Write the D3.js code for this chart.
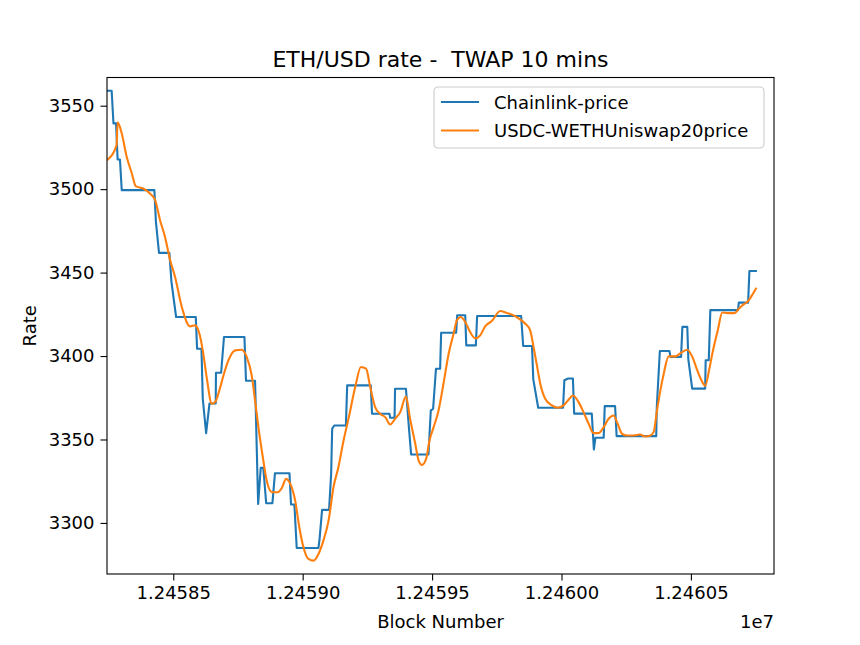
<!DOCTYPE html>
<html>
<head>
<meta charset="utf-8">
<script src="https://cdn.jsdelivr.net/npm/d3@7"></script>
<style>
  body { margin: 0; background: #fff; }
  text { font-family: "DejaVu Sans", sans-serif; fill: #000; }
</style>
</head>
<body>
<svg id="chart" width="860" height="645"></svg>
<script>
var chainlinkBlocks = [
  12458244, 12458262, 12458269, 12458279, 12458285, 12458294, 12458301, 12458427, 12458433, 12458445,
  12458485, 12458493, 12458511, 12458587, 12458592, 12458609, 12458614, 12458627, 12458640, 12458664,
  12458665, 12458685, 12458696, 12458775, 12458781, 12458816, 12458828, 12458838, 12458848, 12458859,
  12458883, 12458893, 12458949, 12458955, 12458968, 12458977, 12459061, 12459065, 12459075, 12459102,
  12459110, 12459114, 12459122, 12459167, 12459172, 12459263, 12459268, 12459335, 12459338, 12459355,
  12459357, 12459399, 12459408, 12459419, 12459486, 12459495, 12459504, 12459515, 12459531, 12459535,
  12459593, 12459597, 12459628, 12459632, 12459669, 12459674, 12459844, 12459852, 12459886, 12459891,
  12459910, 12460006, 12460011, 12460026, 12460044, 12460049, 12460117, 12460125, 12460131, 12460163,
  12460167, 12460207, 12460213, 12460366, 12460368, 12460380, 12460417, 12460421, 12460462, 12460467,
  12460486, 12460490, 12460505, 12460555, 12460557, 12460569, 12460575, 12460682, 12460685, 12460721,
  12460726, 12460751
]
var chainlinkPrice = [
  3559, 3559, 3539.4, 3539.4, 3517.8, 3517.8, 3499.4, 3499.4, 3480.4, 3461.8,
  3461.8, 3444.4, 3423.4, 3423.4, 3404.4, 3404.4, 3374.4, 3353.8, 3371.6, 3371.6,
  3390, 3390, 3411.4, 3411.4, 3385.2, 3385.2, 3311.4, 3333, 3333, 3311.8,
  3311.8, 3329.8, 3329.8, 3311, 3311, 3285, 3285, 3290, 3307.8, 3307.8,
  3329.4, 3356.4, 3358.4, 3358.4, 3382.4, 3382.4, 3365.4, 3365.4, 3363, 3363,
  3380.4, 3380.4, 3361.8, 3341, 3341, 3367.4, 3368.4, 3392.4, 3392.4, 3414,
  3414, 3424.4, 3424.4, 3406.4, 3406.4, 3424, 3424, 3406, 3406, 3386,
  3369, 3369, 3385.5, 3386.5, 3386.5, 3365.5, 3365.5, 3344, 3351, 3351,
  3370, 3370, 3352, 3352, 3369, 3403, 3403, 3399.5, 3399.5, 3417.5,
  3417.5, 3398, 3380.5, 3380.5, 3397.5, 3397.5, 3427.5, 3427.5, 3432, 3432,
  3451, 3451
]

var uniswapBlocks = [
  12458247, 12458281, 12458285, 12458301, 12458320, 12458340, 12458355, 12458384, 12458410, 12458430,
  12458449, 12458468, 12458488, 12458507, 12458533, 12458565, 12458584, 12458601, 12458614, 12458629,
  12458649, 12458662, 12458678, 12458694, 12458713, 12458739, 12458765, 12458784, 12458803, 12458816,
  12458829, 12458846, 12458861, 12458881, 12458904, 12458919, 12458936, 12458949, 12458971, 12458987,
  12459003, 12459022, 12459042, 12459061, 12459080, 12459100, 12459119, 12459138, 12459158, 12459177,
  12459203, 12459225, 12459245, 12459261, 12459280, 12459299, 12459319, 12459338, 12459357, 12459377,
  12459399, 12459415, 12459435, 12459448, 12459461, 12459477, 12459490, 12459506, 12459525, 12459544,
  12459564, 12459583, 12459596, 12459611, 12459628, 12459647, 12459667, 12459686, 12459705, 12459731,
  12459763, 12459789, 12459815, 12459841, 12459860, 12459879, 12459892, 12459905, 12459918, 12459937,
  12459963, 12459985, 12460008, 12460027, 12460044, 12460066, 12460085, 12460105, 12460124, 12460143,
  12460163, 12460182, 12460201, 12460217, 12460234, 12460253, 12460279, 12460302, 12460324, 12460343,
  12460356, 12460369, 12460382, 12460395, 12460414, 12460440, 12460457, 12460486, 12460506, 12460525,
  12460545, 12460555, 12460571, 12460584, 12460604, 12460621, 12460643, 12460669, 12460682, 12460702,
  12460721, 12460734, 12460751
]
var uniswapPrice = [
  3517.8, 3526.4, 3540, 3533.4, 3519.4, 3509.4, 3501.8, 3500.4, 3497.4, 3493.4,
  3481.4, 3471.4, 3457.4, 3447.4, 3429.4, 3417.8, 3418.4, 3413.4, 3403.4, 3387.4,
  3371.4, 3372.4, 3379.4, 3388.4, 3397.4, 3403.4, 3403.8, 3399.4, 3388.4, 3373.4,
  3357.4, 3339.4, 3325.4, 3318.4, 3318.4, 3320.8, 3326.4, 3324.4, 3313.4, 3297.4,
  3285.4, 3278.4, 3277.4, 3281.4, 3289.4, 3301.4, 3321.4, 3333.4, 3349.4, 3362.4,
  3381.4, 3393.4, 3392.4, 3381.4, 3369.4, 3365.4, 3363.4, 3359, 3362.4, 3366.4,
  3375.8, 3362.4, 3347.4, 3337.4, 3334.8, 3338.4, 3349.4, 3357.4, 3367.4, 3383.4,
  3401.4, 3413.4, 3421.4, 3423.4, 3420.4, 3414.4, 3410.6, 3412.4, 3417.8, 3421,
  3427, 3425.8, 3424.4, 3421.8, 3419.4, 3415.4, 3405.4, 3394.4, 3383.4, 3374.4,
  3370.4, 3369, 3370.4, 3373.8, 3376.4, 3372.4, 3366.4, 3359.4, 3353.8, 3353.8,
  3357.4, 3362.4, 3364.4, 3359.4, 3353.4, 3352.4, 3352.4, 3353, 3351.8, 3352.4,
  3354.4, 3367.4, 3379.4, 3389.4, 3399.8, 3399.8, 3401.4, 3403.8, 3399.3, 3391.2,
  3384.1, 3382.1, 3392.2, 3402.4, 3415.6, 3426.1, 3425.7, 3425.7, 3427.8, 3430.8,
  3432.9, 3435.9, 3440.4
]

var xTicks = [12458500, 12459000, 12459500, 12460000, 12460500]
var yTicks = [3300, 3350, 3400, 3450, 3500, 3550]
var seriesNames = ["Chainlink-price", "USDC-WETHUniswap20price"]
var seriesColors = ["#1f77b4", "#ff7f0e"]

var margin = {left: 107, right: 774, top: 77.5, bottom: 574}

var svg = d3.select("#chart")

var x = d3.scaleLinear()
    .domain([12458244, 12460821])
    .range([margin.left, margin.right])
var y = d3.scaleLinear()
    .domain([3269.4, 3566.9])
    .range([margin.bottom, margin.top])

// chainlink is a step feed, the uniswap twap is drawn smooth
var curves = [d3.curveLinear, d3.curveMonotoneX]

svg.append("clipPath")
    .attr("id", "plot-area")
  .append("rect")
    .attr("x", margin.left)
    .attr("y", margin.top)
    .attr("width", margin.right - margin.left)
    .attr("height", margin.bottom - margin.top)

var series = [
    d3.zip(chainlinkBlocks, chainlinkPrice),
    d3.zip(uniswapBlocks, uniswapPrice)
]

svg.append("g")
    .attr("clip-path", "url(#plot-area)")
    .selectAll("path")
    .data(series)
    .enter()
    .append("path")
        .attr("d", (d, i) => d3.line()
            .x(p => x(p[0]))
            .y(p => y(p[1]))
            .curve(curves[i])(d))
        .attr("fill", "none")
        .attr("stroke", (d, i) => seriesColors[i])
        .attr("stroke-width", 2.1)
        .attr("stroke-linejoin", "round")
        .attr("stroke-linecap", "square")

// axes
svg.append("g")
    .attr("transform", "translate(0," + margin.bottom + ")")
    .call(d3.axisBottom(x).tickValues(xTicks).tickSize(6.5).tickPadding(6)
        .tickFormat(d => (d / 1e7).toFixed(5)))
svg.append("g")
    .attr("transform", "translate(" + margin.left + ",0)")
    .call(d3.axisLeft(y).tickValues(yTicks).tickSize(6.5).tickPadding(6)
        .tickFormat(d3.format("d")))

svg.selectAll(".domain").remove()
svg.selectAll(".tick line").attr("stroke", "#000").attr("stroke-width", 1.1)
svg.selectAll(".tick text")
    .style("font-family", "DejaVu Sans")
    .style("font-size", "18px")
    .attr("fill", "#000")

svg.append("rect")
    .attr("x", margin.left)
    .attr("y", margin.top)
    .attr("width", margin.right - margin.left)
    .attr("height", margin.bottom - margin.top)
    .attr("fill", "none")
    .attr("stroke", "#000")
    .attr("stroke-width", 1.1)

svg.append("text")
    .attr("x", (margin.left + margin.right) / 2)
    .attr("y", 67)
    .attr("text-anchor", "middle")
    .style("font-size", "22px")
    .style("white-space", "pre")
    .text("ETH/USD rate -  TWAP 10 mins")

svg.append("text")
    .attr("x", (margin.left + margin.right) / 2)
    .attr("y", 628)
    .attr("text-anchor", "middle")
    .style("font-size", "18px")
    .text("Block Number")

svg.append("text")
    .attr("x", margin.right)
    .attr("y", 628)
    .attr("text-anchor", "end")
    .style("font-size", "18px")
    .text("1e7")

svg.append("text")
    .attr("transform", "translate(36," + (margin.top + margin.bottom) / 2 + ") rotate(-90)")
    .attr("text-anchor", "middle")
    .style("font-size", "18px")
    .text("Rate")

// legend
var legend = svg.append("g")
    .attr("transform", "translate(434,87)")
legend.append("rect")
    .attr("width", 330)
    .attr("height", 61)
    .attr("rx", 4)
    .attr("fill", "#fff")
    .attr("fill-opacity", 0.8)
    .attr("stroke", "#cccccc")
    .attr("stroke-width", 1.1)
var items = legend.selectAll(".item")
    .data(seriesNames)
    .enter()
    .append("g")
        .attr("class", "item")
        .attr("transform", (d, i) => "translate(0," + (15 + i * 28.5) + ")")
items.append("line")
    .attr("x1", 7)
    .attr("x2", 45)
    .attr("stroke", (d, i) => seriesColors[i])
    .attr("stroke-width", 2.1)
items.append("text")
    .attr("x", 60)
    .attr("y", 6.5)
    .style("font-size", "18px")
    .text(d => d)
</script>
</body>
</html>
